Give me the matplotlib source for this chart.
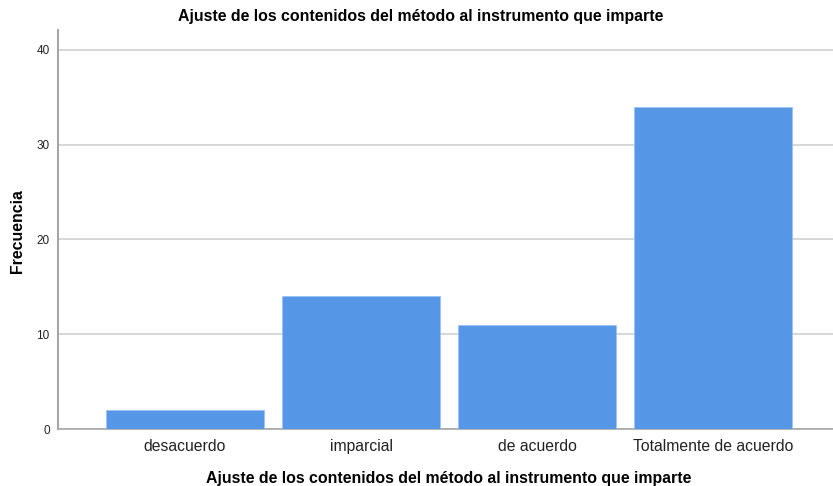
import matplotlib.pyplot as plt

categories = ['desacuerdo', 'imparcial', 'de acuerdo', 'Totalmente de acuerdo']
counts = [2, 14, 11, 34]
y_ticks = [0, 10, 20, 30, 40]

title = 'Ajuste de los contenidos del método al instrumento que imparte'

plt.rcParams['font.family'] = ['Liberation Sans', 'DejaVu Sans']

fig = plt.figure(figsize=(8.33, 4.86), dpi=100)
ax = fig.add_axes([58/833, 57/486, 775/833, 399/486])

x = range(len(categories))
ax.bar(x, counts, width=0.898, color='#5596E6', edgecolor='#9cc2f0', linewidth=0.6, zorder=3)

ax.set_xlim(-0.7216, 3.68)
ax.set_ylim(0, 42.1)
ax.set_yticks(y_ticks)
ax.set_yticklabels([str(v) for v in y_ticks], fontsize=8.5, color='#222222')
ax.set_xticks(list(x))
ax.set_xticklabels(categories, fontsize=11.3, color='#222222')
ax.tick_params(axis='both', length=0)
ax.tick_params(axis='y', pad=6)
ax.tick_params(axis='x', pad=7)

ax.yaxis.grid(True, color='#d4d4d4', linewidth=1.3, zorder=0)
ax.set_axisbelow(True)
for s in ('top', 'right'):
    ax.spines[s].set_visible(False)
ax.spines['left'].set_color('#a6a6a6')
ax.spines['left'].set_linewidth(1.5)
ax.spines['bottom'].set_color('#a6a6a6')
ax.spines['bottom'].set_linewidth(1.2)

fig.text(421/833, 1 - 17/486, title, ha='center', va='center', fontsize=11.4, fontweight='bold')
fig.text(449/833, 1 - 478/486, title, ha='center', va='center', fontsize=11.4, fontweight='bold')
fig.text(18/833, 1 - 231/486, 'Frecuencia', ha='center', va='center', rotation=90,
         fontsize=11.4, fontweight='bold')

fig.savefig('out.png', dpi=100)
